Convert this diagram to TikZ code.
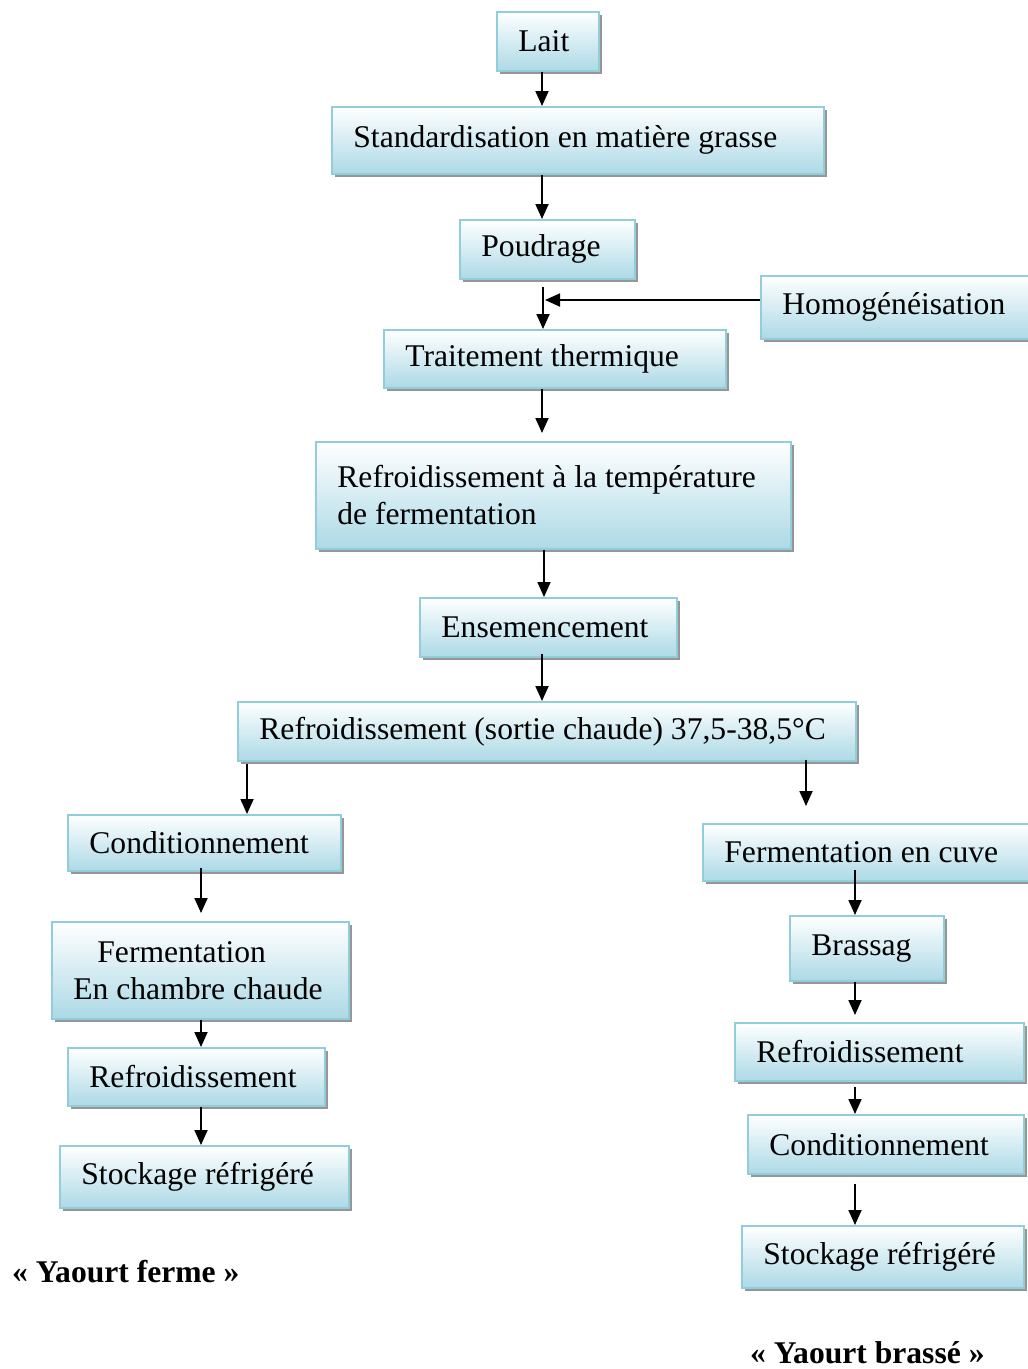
\documentclass[tikz,border=0pt]{standalone}
\usepackage{fontspec}
\setmainfont{Liberation Serif}
\usetikzlibrary{arrows.meta,shadows}

\definecolor{boxline}{RGB}{146,205,220}
\definecolor{boxfill}{RGB}{172,217,230}
\definecolor{shadowgray}{RGB}{150,150,150}

\tikzset{
  stepbox/.style={draw=boxline, line width=1.8pt, top color=white, bottom color=boxfill,
    anchor=north west, inner xsep=21.5pt, inner ysep=0pt, align=flush left,
    font=\fontsize{31.6}{37}\selectfont,
    drop shadow={shadow xshift=3pt, shadow yshift=-3pt, fill=shadowgray, opacity=1}},
  arr/.style={line width=1.8pt, -{Triangle[length=15pt,width=13pt]}},
  tag/.style={anchor=west, inner sep=0pt, font=\fontsize{31.6}{37}\selectfont\bfseries}
}

\begin{document}
\begin{tikzpicture}[x=1pt,y=-1pt]
\clip (0,0) rectangle (1028,1369);
\fill[white] (0,0) rectangle (1028,1369);

% arrow columns
\coordinate (cS) at (542,0);
\coordinate (cT) at (543,0);
\coordinate (cE) at (544,0);
\coordinate (cL) at (201,0);
\coordinate (cLa) at (247,0);
\coordinate (cRa) at (806,0);
\coordinate (cR) at (855,0);
\coordinate (hj) at (545,300);

% main line
\node[stepbox, text width=59pt, minimum height=59pt] (lait) at (496,11) {Lait};
\node[stepbox, text width=449pt, minimum height=67pt] (std) at (331,106) {\mbox{Standardisation en matière grasse}};
\node[stepbox, text width=132pt, minimum height=59pt] (poud) at (459,219) {Poudrage};
\node[stepbox, text width=250pt, minimum height=63pt] (homog) at (760,275) {\mbox{Homogénéisation}};
\node[stepbox, text width=299pt, minimum height=58pt] (trait) at (383,329) {\mbox{Traitement thermique}};
\node[stepbox, text width=432pt, minimum height=107pt] (reft) at (315,441) {\mbox{Refroidissement à la température}\\de fermentation};
\node[stepbox, text width=214pt, minimum height=59pt] (ens) at (419,597) {\mbox{Ensemencement}};
\node[stepbox, text width=575pt, minimum height=59pt] (sortie) at (237,701) {\mbox{Refroidissement (sortie chaude) 37,5-38,5°C}};

% set yoghurt branch
\node[stepbox, text width=230pt, minimum height=56pt] (condL) at (67,814) {\mbox{Conditionnement}};
\node[stepbox, text width=254pt, minimum height=97pt] (ferm) at (51,921) {\hspace*{24pt}Fermentation\\\mbox{En chambre chaude}};
\node[stepbox, text width=214pt, minimum height=58pt] (refL) at (67,1047) {\mbox{Refroidissement}};
\node[stepbox, text width=246pt, minimum height=62pt] (stockL) at (59,1145) {\mbox{Stockage réfrigéré}};

% stirred yoghurt branch
\node[stepbox, text width=283pt, minimum height=57pt] (fcuve) at (702,823) {\mbox{Fermentation en cuve}};
\node[stepbox, text width=111pt, minimum height=65pt] (bras) at (789,915) {Brassag};
\node[stepbox, text width=246pt, minimum height=58pt] (refR) at (734,1022) {\mbox{Refroidissement}};
\node[stepbox, text width=233pt, minimum height=59pt] (condR) at (747,1114) {\mbox{Conditionnement}};
\node[stepbox, text width=239pt, minimum height=62pt] (stockR) at (741,1225) {\mbox{Stockage réfrigéré}};

% product names
\node[tag] (yferme) at (12,1272) {« Yaourt ferme »};
\node[tag] (ybrasse) at (750,1353) {« Yaourt brassé »};

% connectors, main line
\draw[arr] (lait.south -| cS) -- (std.north -| cS);
\draw[arr] (std.south -| cS) -- (poud.north -| cS);
\draw[arr, shorten <=7pt] (poud.south -| cT) -- (trait.north -| cT);
\draw[arr] (homog.west |- hj) -- (hj);
\draw[arr, shorten >=8pt] (trait.south -| cS) -- (reft.north -| cS);
\draw[arr] (reft.south -| cE) -- (ens.north -| cE);
\draw[arr, shorten <=-4pt] (ens.south -| cS) -- (sortie.north -| cS);

% connectors, set yoghurt
\draw[arr, shorten <=2pt] (sortie.south -| cLa) -- (condL.north -| cLa);
\draw[arr, shorten <=-4pt, shorten >=8pt] (condL.south -| cL) -- (ferm.north -| cL);
\draw[arr] (ferm.south -| cL) -- (refL.north -| cL);
\draw[arr] (refL.south -| cL) -- (stockL.north -| cL);

% connectors, stirred yoghurt
\draw[arr, shorten <=-2pt, shorten >=17pt] (sortie.south -| cRa) -- (fcuve.north -| cRa);
\draw[arr, shorten <=-12pt] (fcuve.south -| cR) -- (bras.north -| cR);
\draw[arr, shorten >=7pt] (bras.south -| cR) -- (refR.north -| cR);
\draw[arr, shorten <=5pt] (refR.south -| cR) -- (condR.north -| cR);
\draw[arr, shorten <=9pt] (condR.south -| cR) -- (stockR.north -| cR);
\end{tikzpicture}
\end{document}
